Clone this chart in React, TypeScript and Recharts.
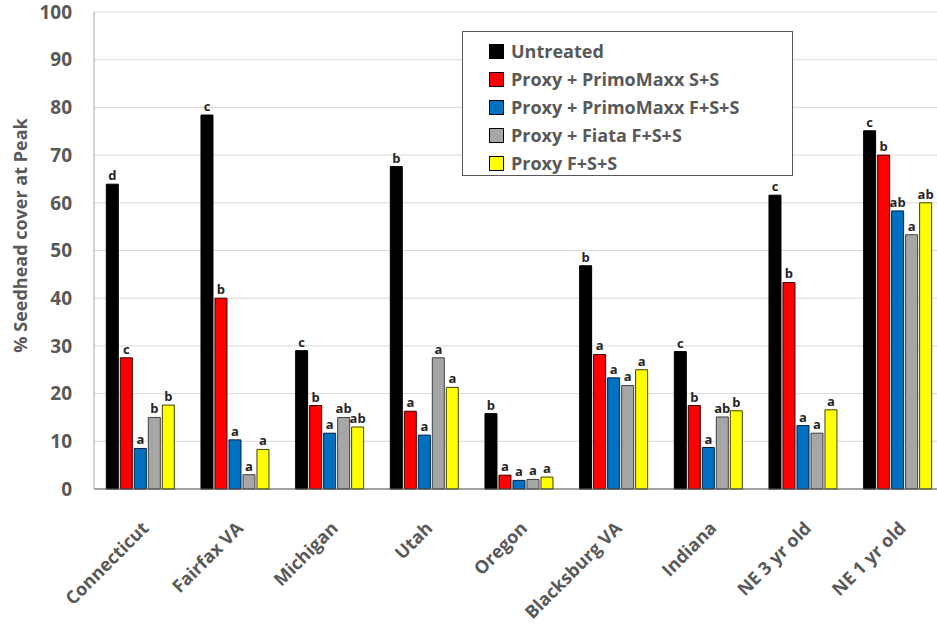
import React from "react";
import {
  Bar,
  BarChart,
  CartesianGrid,
  LabelList,
  Legend,
  XAxis,
  YAxis,
} from "recharts";

const FONT = "'Open Sans', sans-serif";
const AXIS_GREY = "#595959";

const sites = [
  "Connecticut",
  "Fairfax VA",
  "Michigan",
  "Utah",
  "Oregon",
  "Blacksburg VA",
  "Indiana",
  "NE 3 yr old",
  "NE 1 yr old",
];

// % seedhead cover per treatment, one value per site
const untreated = [63.9, 78.4, 29.0, 67.6, 15.8, 46.8, 28.8, 61.6, 75.1];
const primoSS = [27.5, 40.0, 17.5, 16.3, 2.9, 28.2, 17.5, 43.3, 70.0];
const primoFSS = [8.5, 10.3, 11.7, 11.3, 1.8, 23.3, 8.7, 13.3, 58.3];
const fiataFSS = [15.0, 3.0, 15.0, 27.5, 2.0, 21.7, 15.1, 11.7, 53.3];
const proxyFSS = [17.6, 8.3, 13.0, 21.3, 2.5, 25.0, 16.4, 16.6, 60.0];

// mean separation letters
const untreatedLetters = ["d", "c", "c", "b", "b", "b", "c", "c", "c"];
const primoSSLetters = ["c", "b", "b", "a", "a", "a", "b", "b", "b"];
const primoFSSLetters = ["a", "a", "a", "a", "a", "a", "a", "a", "ab"];
const fiataFSSLetters = ["b", "a", "ab", "a", "a", "a", "ab", "a", "a"];
const proxyFSSLetters = ["b", "a", "ab", "a", "a", "a", "b", "a", "ab"];

const yTicks = [0, 10, 20, 30, 40, 50, 60, 70, 80, 90, 100];

const data = sites.map((site, i) => ({
  site,
  untreated: untreated[i],
  primoSS: primoSS[i],
  primoFSS: primoFSS[i],
  fiataFSS: fiataFSS[i],
  proxyFSS: proxyFSS[i],
  untreatedL: untreatedLetters[i],
  primoSSL: primoSSLetters[i],
  primoFSSL: primoFSSLetters[i],
  fiataFSSL: fiataFSSLetters[i],
  proxyFSSL: proxyFSSLetters[i],
}));

const series = [
  { key: "untreated", name: "Untreated", color: "#000000", stroke: "#000000" },
  { key: "primoSS", name: "Proxy + PrimoMaxx S+S", color: "#FF0000", stroke: "#3a0000" },
  { key: "primoFSS", name: "Proxy + PrimoMaxx F+S+S", color: "#0070C0", stroke: "#002040" },
  { key: "fiataFSS", name: "Proxy + Fiata F+S+S", color: "#A6A6A6", stroke: "#404040" },
  { key: "proxyFSS", name: "Proxy F+S+S", color: "#FFFF00", stroke: "#404000" },
];

const SiteTick = (props: any) => {
  const { x, y, payload } = props;
  return (
    <g transform={`translate(${x + 5},${y + 29})`}>
      <text
        textAnchor="end"
        dominantBaseline="middle"
        transform="rotate(-45)"
        fill={AXIS_GREY}
        fontFamily={FONT}
        fontWeight={700}
        fontSize={18}
      >
        {payload.value}
      </text>
    </g>
  );
};

const YTitle = (props: any) => {
  const { viewBox } = props;
  const cy = viewBox.y + viewBox.height / 2 - 15;
  return (
    <text
      x={22}
      y={cy}
      transform={`rotate(-90, 22, ${cy})`}
      textAnchor="middle"
      dominantBaseline="middle"
      fill={AXIS_GREY}
      fontFamily={FONT}
      fontWeight={700}
      fontSize={18}
    >
      % Seedhead cover at Peak
    </text>
  );
};

// legend keeps the series order rather than the sorted payload
const LegendBox = () => (
  <div
    style={{
      width: 331,
      height: 145,
      border: "1px solid #595959",
      background: "#fff",
      boxSizing: "border-box",
      padding: "5px 0 0 26px",
      overflow: "hidden",
    }}
  >
    {series.map((s) => (
      <div
        key={s.key}
        style={{ display: "flex", alignItems: "center", height: 28 }}
      >
        <span
          style={{
            width: 13,
            height: 13,
            background: s.color,
            border: "1px solid #000",
            marginRight: 7,
          }}
        />
        <span
          style={{
            fontFamily: FONT,
            fontWeight: 700,
            fontSize: 18,
            lineHeight: "24px",
            color: AXIS_GREY,
            whiteSpace: "nowrap",
          }}
        >
          {s.name}
        </span>
      </div>
    ))}
  </div>
);

export default function App() {
  return (
    <div
      style={{
        position: "absolute",
        left: 0,
        top: 0,
        width: 937,
        height: 627,
        overflow: "hidden",
        background: "#fff",
      }}
    >
      <BarChart
        width={946}
        height={627}
        data={data}
        margin={{ top: 12, right: 0, left: 0, bottom: 0 }}
        barCategoryGap="13%"
        barGap={2}
      >
        <CartesianGrid vertical={false} stroke="#D9D9D9" />
        <XAxis
          dataKey="site"
          height={138}
          interval={0}
          tickLine={false}
          stroke={AXIS_GREY}
          tick={<SiteTick />}
        />
        <YAxis
          width={94}
          domain={[0, 100]}
          ticks={yTicks}
          tickLine={false}
          tickSize={0}
          tickMargin={22}
          stroke="#A6A6A6"
          tick={{
            fill: AXIS_GREY,
            fontFamily: FONT,
            fontWeight: 700,
            fontSize: 19,
          }}
          label={<YTitle />}
        />
        <Legend
          verticalAlign="middle"
          align="center"
          layout="vertical"
          wrapperStyle={{ left: 462, top: 31, width: 331 }}
          content={<LegendBox />}
        />
        {series.map((s) => (
          <Bar
            key={s.key}
            dataKey={s.key}
            name={s.name}
            fill={s.color}
            stroke={s.stroke}
            strokeWidth={1}
            isAnimationActive={false}
          >
            <LabelList
              dataKey={`${s.key}L`}
              position="top"
              offset={4}
              fill="#262626"
              fontFamily={FONT}
              fontWeight={700}
              fontSize={13}
            />
          </Bar>
        ))}
      </BarChart>
    </div>
  );
}
